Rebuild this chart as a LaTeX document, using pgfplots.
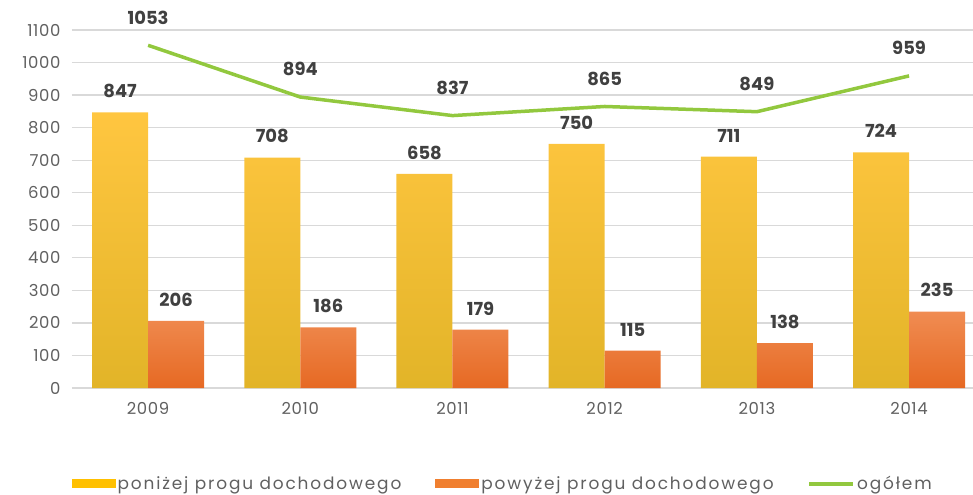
\documentclass[border=0pt]{standalone}
\usepackage{fontspec}
\setmainfont{Poppins}
\newfontfamily\legfont{Poppins}[LetterSpace=11]
\newfontfamily\tickfont{Poppins}[LetterSpace=4]
\usepackage{pgfplots}
\pgfplotsset{compat=1.18}
\definecolor{gridc}{RGB}{217,217,217}
\definecolor{tickc}{RGB}{96,96,96}
\definecolor{labc}{RGB}{64,64,64}
\definecolor{ytop}{RGB}{255,198,64}
\definecolor{ymid}{RGB}{252,195,18}
\definecolor{ybot}{RGB}{226,180,40}
\definecolor{yleg}{RGB}{255,192,0}
\definecolor{otop}{RGB}{240,140,82}
\definecolor{omid}{RGB}{240,122,45}
\definecolor{obot}{RGB}{230,105,35}
\definecolor{oleg}{RGB}{240,127,47}
\definecolor{lgreen}{RGB}{146,200,62}
\begin{document}
\begin{tikzpicture}
\begin{axis}[name=ax, scale only axis, width=901bp, height=358bp,
  xmin=-0.5, xmax=5.42, ymin=0, ymax=1100,
  xtick={0,1,2,3,4,5}, xticklabels={2009,2010,2011,2012,2013,2014},
  ytick={0,100,...,1100},
  ymajorgrids, grid style={gridc, line width=1.2bp},
  axis line style={draw=none}, major tick length=0pt,
  tick label style={font=\tickfont\fontsize{16.5}{18}\selectfont, text=tickc},
  /pgf/number format/assume math mode=true,
  /pgf/number format/1000 sep={},
  yticklabel style={xshift=-8bp},
  xticklabel style={yshift=-11bp},
  clip=false,
  legend style={at={(0.478,-0.268)}, anchor=center, draw=none, fill=none,
    legend columns=3, font=\legfont\fontsize{17}{18}\selectfont, text=tickc,
    /tikz/every even column/.append style={column sep=32bp}},
  legend cell align=left,
]
\addplot[ybar, bar width=56bp, bar shift=-28bp, draw=none,
  top color=ytop, middle color=ymid, bottom color=ybot,
  nodes near coords,
  every node near coord/.append style={font=\bfseries\fontsize{18}{19}\selectfont, text=labc, yshift=11bp, xshift=-28bp},
  legend image code/.code={\pgfpathrectangle{\pgfpoint{0bp}{-4.5bp}}{\pgfpoint{44bp}{9bp}}\pgfsetfillcolor{yleg}\pgfusepath{fill}}]
  coordinates {(0,847)(1,708)(2,658)(3,750)(4,711)(5,724)};
\addlegendentry{poniżej progu dochodowego}
\addplot[ybar, bar width=56bp, bar shift=28bp, draw=none,
  top color=otop, middle color=omid, bottom color=obot,
  nodes near coords,
  every node near coord/.append style={font=\bfseries\fontsize{18}{19}\selectfont, text=labc, yshift=11bp, xshift=28bp},
  legend image code/.code={\pgfpathrectangle{\pgfpoint{0bp}{-4.5bp}}{\pgfpoint{44bp}{9bp}}\pgfsetfillcolor{oleg}\pgfusepath{fill}}]
  coordinates {(0,206)(1,186)(2,179)(3,115)(4,138)(5,235)};
\addlegendentry{powyżej progu dochodowego}
\addplot[lgreen, line width=3.5bp, mark=none,
  nodes near coords,
  every node near coord/.append style={font=\bfseries\fontsize{18}{19}\selectfont, text=labc, yshift=16bp},
  legend image code/.code={\pgfpathmoveto{\pgfpoint{0bp}{0bp}}\pgfpathlineto{\pgfpoint{44bp}{0bp}}\pgfsetlinewidth{3.5bp}\pgfsetstrokecolor{lgreen}\pgfusepath{stroke}}]
  coordinates {(0,1053)(1,894)(2,837)(3,865)(4,849)(5,959)};
\addlegendentry{ogółem}
\end{axis}
\pgfresetboundingbox
\path[use as bounding box] ([shift={(-72bp,-107bp)}]ax.south west) rectangle ++(973bp,495bp);
\end{tikzpicture}
\end{document}
